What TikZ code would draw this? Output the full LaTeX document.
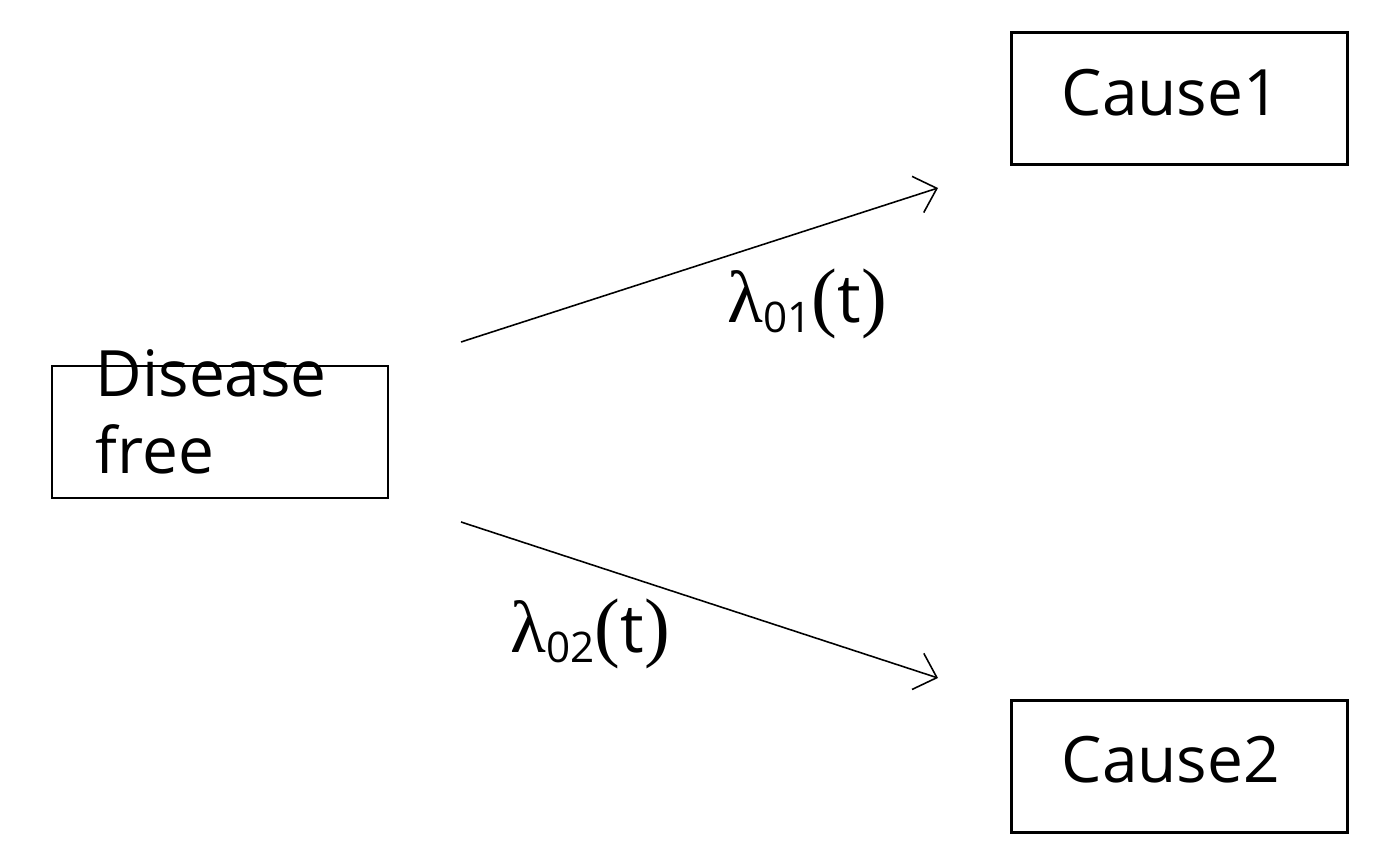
\documentclass[tikz,border=0pt]{standalone}
\usepackage{fontspec}
\setmainfont{Open Sans}
\newfontfamily\lamfont{Liberation Serif}
\usetikzlibrary{arrows.meta,positioning}

\tikzset{
	statebox/.style={draw,line width=0.6pt,minimum width=3.36cm,minimum height=1.32cm,inner sep=0pt},
	boxtext/.style={anchor=base west,inner sep=0pt,font=\fontsize{18.2}{21}\selectfont},
	ratetext/.style={anchor=base west,inner sep=0pt,font=\fontsize{19}{21}\selectfont},
	trans/.style={line width=0.45pt,-{Straight Barb[length=2mm,width=3.8mm]}}
}
\newcommand{\rate}[1]{{\lamfont\fontsize{21}{21}\selectfont\symbol{"03BB}}\raisebox{-0.1cm}{\fontsize{12}{12}\selectfont #1}{\lamfont\fontsize{22}{22}\selectfont(}t{\lamfont\fontsize{22}{22}\selectfont)}}

\begin{document}
\begin{tikzpicture}
	\useasboundingbox (0,0) rectangle (14,8.66);
	% states
	\node[statebox] (free) at (2.20,4.34) {};
	\node[statebox] (cause1) at (11.795,7.675) {};
	\node[statebox] (cause2) at (11.795,0.995) {};
	\node[boxtext] (freea) at (0.95,4.69) {Disease};
	\node[boxtext] (freeb) at (0.95,3.92) {free};
	\node[boxtext] (causea) at (10.61,7.50) {Cause1};
	\node[boxtext] (causeb) at (10.61,0.83) {Cause2};
	% transitions
	\coordinate (s1) at (4.61,5.24);
	\coordinate (e1) at (9.38,6.78);
	\coordinate (s2) at (4.61,3.44);
	\coordinate (e2) at (9.38,1.88);
	\draw[trans] (s1) -- (e1);
	\draw[trans] (s2) -- (e2);
	\node[ratetext] (lam1) at (7.27,5.43) {\rate{01}};
	\node[ratetext] (lam2) at (5.10,2.13) {\rate{02}};
\end{tikzpicture}
\end{document}
